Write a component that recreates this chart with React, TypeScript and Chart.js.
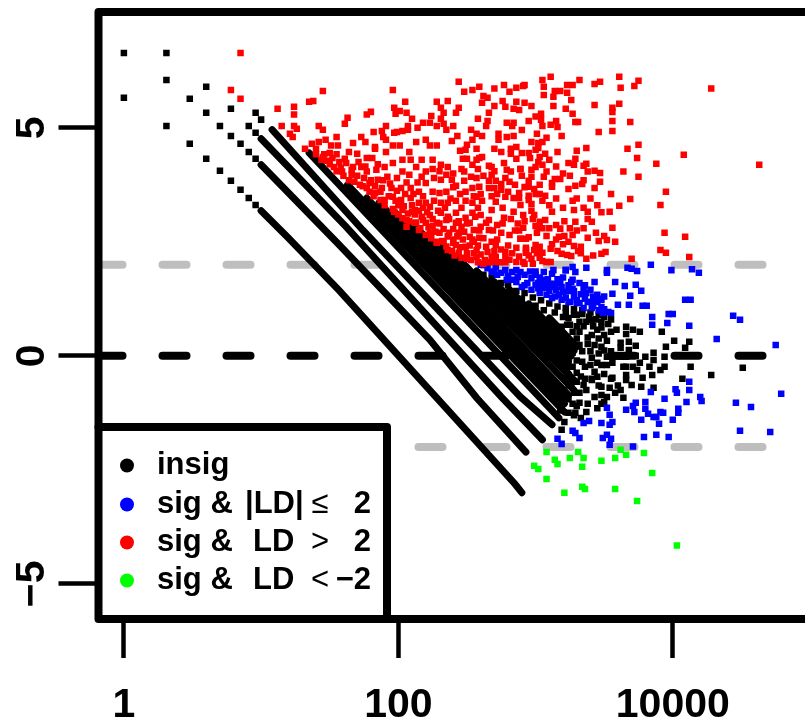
import React, { useEffect, useRef } from "react";
import { Chart, registerables } from "chart.js";

Chart.register(...registerables);

// All pairs are [log10(mean), log-difference]
const xTicks = [1, 100, 10000];
const yTicks = [-5, 0, 5];
const cutoffs = [2, -2];

const insigSparse = [[0,6.64],[0.31,6.64],[0.31,6.05],[0.31,5.04],[0,5.66],[0.48,5.64],[0.48,4.65],[0.60,5.90],[0.60,5.33],[0.60,4.32],[0.70,5.04],[0.70,4.06],[0.78,5.42],[0.78,4.82],[0.78,3.84],[0.85,4.65],[0.85,3.64],[0.91,5.04],[0.91,4.47],[0.91,3.46],[0.96,5.33],[0.96,4.89],[0.96,4.32],[0.96,3.31],[1.00,5.18]];

const band1 = [[1.00,3.18],[1.19,2.61],[1.57,1.43],[2.28,-0.92],[2.85,-2.81],[2.90,-3.00]];
const band2 = [[1.00,4.19],[1.57,2.43],[2.23,0.35],[2.57,-0.92],[2.93,-2.11]];
const band3 = [[1.00,4.76],[1.62,2.83],[2.75,-0.90],[3.05,-1.84]];
const band4 = [[1.08,4.96],[1.74,2.76],[2.89,-0.90],[3.12,-1.51]];
const band5 = [[1.35,4.45],[3.17,-1.36]];
const band6 = [[1.63,3.75],[3.21,-1.23]];
const band7 = [[1.77,3.46],[3.21,-1.05]];
const band8 = [[1.86,3.36],[3.21,-0.90]];
const band9 = [[1.97,3.16],[3.24,-0.86]];
const band10 = [[2.12,2.85],[3.28,-0.75]];
const band11 = [[2.30,2.43],[3.28,-0.53]];
const band12 = [[2.44,2.13],[3.24,-0.39]];
const band13 = [[2.57,1.86],[3.24,-0.24]];
const band14 = [[2.70,1.62],[3.24,-0.11]];
const band15 = [[2.81,1.45],[3.26,0.02]];
const band16 = [[2.95,1.14],[3.28,0.11]];
const band17 = [[3.10,0.83],[3.30,0.20]];
const bands = [band1,band2,band3,band4,band5,band6,band7,band8,band9,band10,band11,band12,band13,band14,band15,band16,band17];

const insigScatter = [[3.66,0.64],[3.71,0.57],[3.76,0.53],[3.66,0.48],[3.92,0.53],[4.01,0.33],[4.12,0.31],[4.09,0.18],[3.95,0.20],[3.94,-0.02],[3.86,0.07],[3.80,-0.02],[3.76,-0.15],[3.86,-0.09],[3.83,-0.24],[3.94,-0.24],[3.91,-0.31],[4.13,-0.24],[4.51,-0.26],[4.28,-0.42],[4.07,-0.50],[3.85,-0.42],[3.78,-0.48],[3.77,-0.68],[3.86,-0.70],[3.70,-0.64],[3.74,-0.31],[3.66,-0.24],[3.64,-0.24],[3.71,-0.24],[3.66,-0.42],[3.66,-0.53],[3.56,-0.48],
[3.59,0.57],[3.55,0.53],[3.50,0.46],[3.48,0.75],[3.41,0.79],[3.37,0.75],[3.30,0.90],[3.32,0.75],[3.24,0.83],[3.23,0.68],[3.19,0.64],[3.27,0.53],[3.32,0.53],[3.41,0.46],[3.45,0.57],[3.62,0.29],[3.68,0.31],[3.73,0.22],[3.62,0.18],[3.68,0.13],[3.73,0],[3.66,-0.02],[3.62,-0.02],[3.57,-0.02],[3.52,-0.02],[3.48,0.20],[3.43,0.24],[3.38,0.26],[3.32,0.24],[3.24,0.31],[3.19,0.20],[3.19,0.40],[3.27,0.07],[3.21,-0.04],[3.34,-0.13],[3.41,-0.04],[3.48,-0.20],[3.52,-0.20],[3.27,-0.24],[3.30,-0.37],[3.43,-0.35],[3.36,-0.24],[3.45,-0.46],[3.41,-0.53],[3.22,-0.48],[3.26,-0.59],[3.35,-0.64],[3.30,-0.57],[3.21,-0.75],[3.19,-0.90],[3.28,-0.81],[3.32,-0.81],[3.37,-0.75],[3.43,-0.90],[3.48,-0.68],[3.54,-0.70],[3.62,-0.75],[3.58,-0.81],[3.64,-0.92],[3.48,-0.86],[3.52,-0.90],[3.48,-1.05],[3.50,-1.01],[3.32,-1.03],[3.27,-1.05],[3.19,-1.07],[3.37,-1.23],[3.29,-1.25],[3.24,-1.25],[3.33,-1.36],[3.21,-1.45],[3.19,-1.62],[3.41,-0.50],[3.56,-0.15],[3.60,-0.65],[3.25,0.15],[3.40,0.10],[3.45,-0.15],[3.36,-0.50],[3.30,-1.10],
[3.22,0.95],[3.28,0.90],[3.34,0.92],[3.39,0.86],[3.44,0.80],[3.35,0.65],[3.42,0.65],[3.48,0.62],[3.53,0.70],[3.25,0.68],[3.30,0.65],[3.38,0.40],[3.46,0.38],[3.52,0.33],[3.30,0.38],[3.34,0.10],[3.46,0.05],[3.50,0.12],[3.40,-0.20],[3.55,0.10],[3.30,-0.10],[3.24,-0.15],[3.24,-0.60],[3.33,-0.45],[3.50,-0.40],[3.46,-0.65],[3.55,-0.50],[3.28,-1.30],[3.18,-1.20],[3.24,-0.95],[3.38,-1.05],[3.45,-1.15],
[2.62,1.78],[2.68,1.70],[2.75,1.60],[2.80,1.55],[2.86,1.42],[2.92,1.38],[2.98,1.28],[3.04,1.22],[3.10,1.15],[3.16,1.08],[3.22,1.05],[3.28,1.02],[3.34,1.00],[3.40,0.95],[3.46,0.90],[2.90,1.25],[3.00,1.10],[3.06,1.00],[3.14,0.95],[3.20,0.85],[3.50,0.85],[3.55,0.80]];

const redPoints = [[0.85,6.64],[0.78,5.83],[0.85,5.64],
[3.11,6.12],[3.05,6.05],[2.91,5.92],[3.06,5.90],[3.06,5.72],[3.14,5.81],[3.18,5.81],[3.23,5.94],[3.23,5.77],[3.27,5.94],[3.32,6.05],[3.43,5.96],[3.47,6.01],[3.61,6.12],[3.75,6.03],[3.72,5.92],[3.62,5.88],[4.28,5.86],[3.13,5.68],[3.26,5.61],[3.13,5.48],[2.97,5.48],[2.92,5.55],[3.22,5.42],[3.27,5.31],[3.43,5.50],[3.61,5.53],[3.56,5.44],[3.56,5.35],[3.04,5.31],[3.04,5.18],[3.05,5.04],[3.11,5.07],[3.16,5.02],[3.29,5.13],[3.31,5.13],[3.56,5.15],[3.69,5.13],[3.46,4.91],[3.56,4.93],[3.19,4.82],[3.01,4.87],[3.08,4.78],[2.97,4.69],[3.05,4.69],[3.02,4.67],[3.02,4.56],[3.00,4.52],[2.95,4.45],[3.07,4.43],[3.16,4.47],[3.30,4.50],[3.37,4.56],[3.67,4.54],[3.75,4.63],[3.74,4.34],[4.08,4.41],[4.63,4.19],[3.88,4.21],[2.96,4.34],[3.03,4.36],[3.02,4.25],[3.05,4.19],[3.00,4.14],[3.29,4.32],[3.24,4.23],[3.28,4.19],[3.35,4.17],[3.37,4.21],[3.38,4.04],[3.43,4.06],[3.47,4.01],[3.64,4.04],[3.75,3.93],[2.89,4.10],[2.97,4.08],[3.08,4.04],[3.06,3.93],[2.97,3.93],[3.14,3.88],[3.18,3.88],[3.47,3.82],[2.95,3.84],[3.03,3.75],[3.12,3.79],[3.12,3.71],[3.24,3.66],[3.29,3.73],[3.34,3.77],[3.43,3.68],[3.95,3.60],[2.95,3.71],[2.99,3.66],[3.03,3.55],[3.07,3.51],[2.95,3.51],[2.95,3.42],[3.69,3.44],[3.27,3.40],[3.61,3.29],[3.91,3.31],[2.89,3.31],[2.97,3.33],[2.97,3.18],[2.99,3.09],[2.91,3.09],[3.12,3.16],[3.28,3.20],[3.38,3.16],[3.54,3.16],[3.38,3.00],[3.41,2.94],[3.29,2.94],[3.07,2.98],[3.03,2.94],[3.02,2.81],[3.01,2.70],[2.91,2.81],[3.15,2.87],[3.18,2.79],[3.56,2.81],[3.08,2.63],[3.17,2.61],[3.21,2.63],[3.27,2.65],[3.24,2.50],[3.38,2.59],[3.46,2.52],[3.50,2.63],[3.52,2.54],[3.58,2.50],[3.94,2.70],[4.09,2.61],[2.93,2.57],[2.89,2.57],[3.00,2.43],[3.03,2.39],[3.28,2.41],[3.33,2.39],[3.31,2.30],[3.11,2.35],[2.99,2.32],[2.93,2.37],[2.93,2.26],[3.05,2.26],[3.19,2.24],[3.23,2.21],[3.26,2.19],[3.48,2.24],[3.51,2.28],[3.91,2.32],[3.95,2.26],[4.12,2.17],[3.70,2.13],[3.37,2.13],[2.97,2.13],[3.03,2.15],[3.08,2.06],[3.11,2.06],[2.91,2.06],
[1.45,5.81],[1.96,5.83],[1.12,5.42],[1.24,5.46],[1.35,5.57],[1.38,5.59],[1.24,5.29],[1.15,5.04],[1.24,5.04],[1.26,4.98],[1.21,4.87],[1.23,4.80],[1.42,5.04],[1.45,4.96],[1.32,4.54],[1.37,4.65],[1.40,4.54],[1.42,4.69],[1.47,4.74],[1.51,4.61],[1.56,4.61],[1.50,4.45],[1.45,4.36],[1.48,4.28],[1.55,4.80],[1.61,5.09],[1.63,5.22],[1.77,5.29],[1.80,5.35],[1.97,5.44],[1.98,5.31],[2.01,5.37],[2.05,5.57],[2.06,5.33],[2.10,5.20],[1.82,4.91],[1.73,4.80],[1.76,4.69],[1.67,4.67],[1.64,4.47],[1.70,4.43],[1.83,4.58],[1.83,4.54],[1.88,4.93],[1.91,5.04],[1.89,4.80],[1.97,4.89],[1.99,4.91],[2.03,4.93],[2.07,5.04],[2.07,4.96],[2.14,5.00],[2.18,5.11],[2.23,5.11],[2.24,5.26],[2.31,5.44],[2.28,5.57],[2.36,5.59],[2.33,5.33],[2.42,5.33],[2.44,5.44],[2.31,5.20],[2.28,5.04],[2.33,5.09],[2.35,4.96],[2.40,5.04],[2.44,6.01],[2.48,5.79],[2.54,5.83],[2.59,5.90],[2.62,5.70],[2.65,5.66],[2.61,5.55],[2.70,5.86],[2.70,5.48],[2.66,5.33],[2.77,5.94],[2.81,5.79],[2.76,5.59],[2.78,5.46],[2.86,5.88],[2.92,5.94],[2.84,5.42],[2.88,5.39],[2.86,5.57],[2.58,5.20],[2.65,5.15],[2.64,5.04],[2.53,4.96],[2.79,5.11],[2.84,5.11],[2.83,5.04],[2.57,4.87],[2.61,4.82],[2.43,4.82],[2.73,4.87],[2.79,4.80],[2.84,4.82],[2.73,4.74],[2.39,4.71],[2.54,4.74],[2.50,4.63],[2.45,4.50],[2.49,4.52],[2.57,4.54],[2.70,4.54],[2.75,4.47],[2.82,4.54],[2.86,4.58],[2.82,4.43],[2.86,4.32],[2.77,4.23],[2.89,4.10],[2.54,4.19],[2.48,4.04],[2.66,4.17],[2.68,4.14],[2.59,4.34],[2.47,4.32],[2.50,4.32],[2.57,4.30],[2.61,4.36],[2.79,4.08],[2.82,4.04],[2.68,3.97],[2.66,3.84],[2.71,3.84],[2.75,3.77],[2.81,3.82],[2.46,4.10],[2.53,3.93],[2.57,3.90],[2.42,3.73],[2.48,3.84],[2.36,4.14],[2.35,3.97],[2.31,3.86],[2.39,3.86],[2.59,3.71],[2.54,3.68],[2.49,3.60],[2.66,3.68],[2.70,3.68],[2.75,3.64],[2.78,3.49],[2.88,3.57],[2.84,3.46],[2.88,3.46],[2.76,3.25],[2.84,3.16],[2.71,3.38],[2.61,3.40],[2.57,3.49],[2.54,3.36],[2.49,3.40],[2.42,3.40],[2.46,3.25],[2.60,3.09],[2.66,2.98],[2.54,3.14],[2.49,3.03],[2.72,2.87],[2.77,3.03],[2.75,2.70],[2.81,2.65],[2.89,2.57],[2.66,2.76],[2.60,2.83],[2.55,2.76],[2.52,2.92],[2.46,2.83],[2.42,2.92],[2.36,3.05],[2.31,3.36],[2.36,3.36],[2.31,3.14],[2.23,3.27],[2.20,3.36],[2.15,3.60],[2.25,3.60],[2.30,3.57],[2.35,3.60],[2.20,3.79],[2.26,3.90],[2.20,4.04],[2.17,3.93],[2.13,4.14],[2.17,4.30],[2.25,4.30],[2.31,4.19],[2.23,4.61],[2.28,4.61],[2.20,4.74],[2.13,4.69],[2.08,4.47],[2.09,4.30],[2.03,4.30],[2.03,4.04],[1.96,4.61],[1.91,4.74],[2.01,4.61],[1.91,4.47],[1.81,4.34],[1.77,4.34],[1.73,4.14],[1.67,4.14],[1.62,4.23],[1.57,4.25],[1.53,4.14],[1.59,4.04],[1.66,3.97],[1.77,4.04],[1.84,4.08],[1.90,4.14],[1.96,4.23],[1.85,3.86],[1.92,3.93],[1.99,3.90],[2.08,3.97],[1.79,3.79],[1.72,3.75],[1.88,3.68],[1.95,3.68],[2.02,3.68],[2.09,3.68],[1.96,3.49],[2.02,3.42],[2.09,3.46],[2.15,3.36],[2.03,3.20],[2.10,3.16],[2.17,3.05],[2.23,3.09],[2.13,2.92],[2.20,2.92],[2.28,2.92],[2.35,2.98],[2.42,3.14],[2.23,2.70],[2.30,2.70],[2.37,2.70],[2.44,2.70],[2.52,2.61],[2.59,2.59],[2.33,2.50],[2.42,2.43],[2.49,2.39],[2.57,2.32],[2.64,2.39],[2.71,2.43],[2.78,2.28],[2.86,2.37],[2.93,2.32],[2.50,2.13],[2.62,2.02],[2.70,2.06],[2.81,2.11],[2.86,2.06],[2.92,2.02],[2.44,2.26],[2.57,2.17],[2.68,2.17],[2.78,2.17],[2.36,2.32],[2.28,2.50],[2.15,2.76],[2.06,2.98],[1.97,3.16],[1.90,3.42],[1.83,3.57],[1.77,3.68],[2.06,2.83],[2.40,2.55],[2.55,2.50],[2.70,2.30],[2.25,2.85],[2.12,3.20],[2.00,3.30],
[1.40,4.42],[1.44,4.30],[1.46,4.42],[1.50,4.20],[1.52,4.34],[1.55,4.05],[1.55,4.42],[1.58,4.12],[1.60,3.95],[1.61,4.32],[1.64,3.85],[1.66,4.08],[1.68,3.82],[1.70,3.95],[1.71,4.25],[1.74,3.72],[1.75,3.90],[1.76,4.15],[1.79,3.60],[1.80,3.85],[1.82,3.50],[1.83,3.72],[1.85,4.20],[1.87,3.42],[1.87,3.60],[1.89,3.85],[1.90,3.30],[1.93,3.50],[1.94,3.78],[1.96,3.22],[1.98,3.40],[1.99,3.62],[2.00,3.10],[2.03,3.02],[2.04,3.28],[2.05,3.55],[2.06,3.80],[2.07,3.12],[2.08,2.95],[2.10,3.30],[2.11,3.55],[2.12,2.92],[2.12,3.10],[2.14,3.80],[2.15,3.18],[2.16,2.80],[2.18,2.98],[2.18,3.25],[2.18,3.50],[2.20,2.65],[2.21,3.15],[2.22,2.82],[2.24,2.58],[2.25,3.00],[2.26,3.40],[2.27,2.72],[2.28,2.48],[2.29,3.18],[2.30,2.90],[2.32,2.52],[2.33,2.78],[2.34,3.25],[2.35,2.40],[2.36,2.62],[2.37,3.00],[2.38,3.45],[2.39,2.30],[2.40,2.48],[2.40,2.78],[2.41,2.20],[2.43,2.62],[2.44,2.95],[2.45,2.38],[2.46,2.15],[2.47,2.55],[2.48,2.72],[2.50,2.25],[2.50,2.90],[2.52,2.42],[2.53,2.10],[2.54,2.55],[2.55,2.25],[2.56,3.05],[2.58,2.05],[2.58,2.42],[2.59,2.75],[2.60,2.22],[2.62,2.58],[2.63,2.10],[2.64,2.92],[2.65,2.28],[2.66,2.05],[2.68,2.50],[2.69,2.75],[2.71,2.17],[2.72,2.55],[2.74,2.05],[2.75,2.33],[2.76,2.90],[2.78,2.05],[2.80,2.42],[2.83,2.25],[2.85,2.75],[2.88,2.18],[2.95,2.20],[2.98,2.02],[3.01,2.25],[3.05,2.08],[2.58,3.25],[2.68,3.20],[2.82,3.00],[2.87,2.90],
[2.88,2.75],[2.92,2.95],[2.95,2.60],[2.98,3.00],[3.00,2.85],[3.05,2.80],[3.10,2.80],[3.12,2.45],[3.15,2.55],[3.16,2.30],[3.20,2.45],[3.21,2.95],[3.25,2.80],[3.30,2.75],[3.33,2.25],[3.35,2.80],[3.42,2.20],[3.44,2.70],[3.15,3.45],[3.20,3.25],[3.10,3.30],[3.05,3.40],[3.00,3.55],[2.92,3.70],[2.85,3.75],[2.80,3.60],[2.72,3.55],[2.68,3.50],[2.60,3.55],[2.55,3.50],[2.45,3.55],[2.40,3.70],[2.90,3.95],[2.78,3.90],[2.62,3.95],[2.58,4.10],[2.70,4.05],[2.40,4.00],[2.30,4.05],[2.25,4.10],[2.90,4.45],[3.10,4.30],[3.15,4.15],[3.20,4.00],[3.25,3.95],[3.35,3.85],[3.40,3.45],[3.45,3.30],[3.30,3.45],[3.35,3.25],[3.48,3.15],[3.55,3.55],[3.15,5.15],[3.00,5.25],[2.95,5.15],[2.90,4.95]];

const bluePoints = [[3.37,1.93],[3.84,2.00],[3.67,1.93],[3.70,1.91],[3.74,1.86],[3.52,1.88],[3.52,1.82],[3.99,1.88],[4.14,1.90],[4.19,1.82],[3.22,1.88],[3.27,1.95],[3.29,1.84],[3.58,1.62],[3.65,1.53],[3.73,1.56],[3.77,1.43],[3.43,1.62],[3.27,1.67],[3.32,1.60],[3.27,1.47],[3.19,1.51],[3.35,1.47],[3.37,1.38],[3.45,1.34],[3.56,1.36],[3.69,1.32],[3.48,1.23],[4.09,1.23],[4.13,1.23],[3.25,1.18],[3.32,1.16],[3.41,1.18],[3.45,1.18],[3.35,1.05],[3.41,1.05],[3.48,1.07],[3.60,1.12],[3.68,1.12],[3.78,1.10],[3.81,1.10],[3.49,0.94],[3.53,0.96],[3.55,0.94],[3.85,0.85],[3.97,0.92],[4.00,0.92],[4.44,0.88],[4.49,0.79],[3.85,0.68],[3.96,0.72],[4.12,0.66],[4.32,0.37],[4.75,0.24],
[3.84,-0.79],[4.02,-0.73],[4.03,-0.81],[4.12,-0.57],[4.12,-0.75],[4.20,-0.90],[4.21,-0.99],[4.10,-1.01],[3.94,-0.94],[3.80,-1.01],[3.73,-1.03],[3.71,-1.10],[3.66,-1.18],[3.72,-1.23],[3.52,-1.14],[3.54,-1.29],[3.80,-1.16],[3.82,-1.27],[3.86,-1.34],[3.88,-1.34],[3.91,-1.23],[3.93,-1.25],[4.04,-1.16],[4.04,-1.25],[4.00,-1.40],[3.90,-1.49],[3.77,-1.40],[3.56,-1.45],[3.54,-1.51],[3.48,-1.47],[3.39,-1.43],[3.35,-1.47],[3.27,-1.64],[3.29,-1.69],[3.32,-1.80],[3.52,-1.73],[3.49,-1.80],[3.55,-1.82],[3.54,-1.95],[3.79,-1.78],[3.88,-1.73],[3.97,-1.78],[3.71,-1.99],[4.79,-0.83],[4.46,-1.03],[4.57,-1.12],[4.49,-1.64],[4.71,-1.67],
[3.16,-1.82],[3.19,-1.93],
[2.62,1.99],[2.68,1.84],[2.75,1.82],[2.83,1.84],[2.89,1.84],[2.79,1.67],[2.83,1.67],[2.87,1.73],[2.90,1.51],[2.94,1.60],[3.00,1.78],[3.06,1.84],[3.13,1.88],[3.22,1.88],[3.05,1.67],[2.97,1.45],[3.03,1.38],[3.12,1.51],[3.17,1.34],[3.12,1.27],[3.08,1.34],[3.19,1.23],[3.26,1.62],[3.24,1.18],[3.30,1.16],[3.00,1.56],[3.05,1.49],[2.71,1.95],[2.60,2.00],
[2.72,1.78],[2.80,1.75],[2.86,1.62],[2.92,1.55],[2.97,1.70],[3.02,1.60],[3.08,1.50],[3.02,1.48],[3.10,1.42],[3.15,1.45],[3.14,1.30],[3.20,1.40],[3.22,1.28],[3.28,1.30],[3.24,1.42],[3.36,1.25],[3.33,1.35],
[2.65,1.92],[2.70,1.85],[2.78,1.88],[2.86,1.88],[2.92,1.78],[2.96,1.85],[3.00,1.85],[3.03,1.72],[3.09,1.68],[3.12,1.80],[3.16,1.68],[3.20,1.72],[3.24,1.55],[3.28,1.42],[3.06,1.58],[3.10,1.58],[3.14,1.58],[3.18,1.60],[3.30,1.22],[3.38,1.18],[3.42,1.30],[3.46,1.25],[3.40,1.45],[3.36,1.55],[3.50,1.30],[3.42,1.10],[3.46,1.00],[3.50,1.02]];

const greenPoints = [[3.08,-2.11],[3.31,-2.11],[3.35,-2.24],[3.25,-2.24],[3.14,-2.28],[3.16,-2.37],[2.99,-2.41],[3.02,-2.48],[3.08,-2.70],[3.34,-2.43],[3.48,-2.30],[3.58,-2.24],[3.62,-2.06],[3.66,-2.17],[3.79,-2.13],[3.85,-2.57],[3.34,-2.87],[3.36,-2.92],[3.21,-3.00],[3.58,-2.92],[3.74,-3.18],[4.03,-4.16]];

const xMin = Math.pow(10, -0.185);
const xMax = Math.pow(10, 4.93);
const toPoint = ([u, m]: number[]) => ({ x: Math.pow(10, u), y: m });

const fontBold = (s: number) => `bold ${s}px "Liberation Sans", Arial, sans-serif`;

const noOverhang = (s: any) => {
  s.paddingTop = 0;
  s.paddingBottom = 0;
  s.paddingLeft = 0;
  s.paddingRight = 0;
};

const frame = {
  id: "frame",
  afterDraw(chart: any) {
    const { ctx, chartArea: a } = chart;
    ctx.save();
    ctx.lineJoin = "round";
    ctx.lineCap = "round";
    const lx = a.left, ly = 427, rx = 387;
    ctx.fillStyle = "#fff";
    ctx.fillRect(lx, ly, rx - lx, a.bottom - ly);
    ctx.strokeStyle = "#000";
    ctx.lineWidth = 8;
    ctx.beginPath();
    ctx.moveTo(lx, ly);
    ctx.lineTo(rx, ly);
    ctx.lineTo(rx, a.bottom);
    ctx.stroke();
    ctx.beginPath();
    ctx.moveTo(a.right + 10, a.top);
    ctx.lineTo(a.left, a.top);
    ctx.lineTo(a.left, a.bottom);
    ctx.lineTo(a.right + 10, a.bottom);
    ctx.stroke();
    const rows: any[] = [
      { y: 474, c: "#000", parts: [["insig", 157, "left", true]] },
      { y: 513, c: "#00f", parts: [["sig &", 157, "left", true], ["|LD|", 245, "left", true], ["≤", 320, "center", false], ["2", 371, "right", true]] },
      { y: 551, c: "#f00", parts: [["sig &", 157, "left", true], ["LD", 253, "left", true], [">", 320, "center", false], ["2", 371, "right", true]] },
      { y: 589, c: "#0f0", parts: [["sig &", 157, "left", true], ["LD", 253, "left", true], ["<", 320, "center", false], ["−2", 371, "right", true]] },
    ];
    ctx.textBaseline = "alphabetic";
    rows.forEach((r) => {
      ctx.fillStyle = r.c;
      ctx.beginPath();
      ctx.arc(127, r.y - 8.5, 7, 0, Math.PI * 2);
      ctx.fill();
      ctx.fillStyle = "#000";
      r.parts.forEach(([t, x, al, bold]: any[]) => {
        ctx.textAlign = al;
        ctx.font = bold ? fontBold(31) : `31px "Liberation Sans", Arial, sans-serif`;
        ctx.fillText(t, x, r.y);
      });
    });
    ctx.restore();
  },
};

export default function App() {
  const ref = useRef<HTMLCanvasElement>(null);
  useEffect(() => {
    const bandSets = bands.map((b) => ({
      type: "line",
      label: "band",
      data: b.map(toPoint),
      borderColor: "#000",
      borderWidth: 7,
      borderCapStyle: "round",
      pointRadius: 0,
      showLine: true,
      order: 4,
    }));
    const scatter = (label: string, pts: number[][], color: string, order: number) => ({
      type: "scatter",
      label,
      data: pts.map(toPoint),
      backgroundColor: color,
      borderColor: color,
      borderWidth: 0,
      pointStyle: "rect",
      pointRadius: 4.6,
      order,
    });
    const hline = (v: number, color: string, order: number) => ({
      type: "line",
      label: "ref",
      data: [{ x: xMin, y: v }, { x: xMax, y: v }],
      borderColor: color,
      borderWidth: 8,
      borderDash: [24, 40],
      borderCapStyle: "round",
      pointRadius: 0,
      order,
    });
    const chart = new Chart(ref.current as HTMLCanvasElement, {
      type: "scatter",
      data: {
        datasets: [
          hline(cutoffs[0], "#bebebe", 9),
          hline(cutoffs[1], "#bebebe", 9),
          ...bandSets,
          scatter("insig", insigSparse, "#000", 4),
          scatter("insig", insigScatter, "#000", 4),
          scatter("sig & LD > 2", redPoints, "#f00", 3),
          scatter("sig & |LD| <= 2", bluePoints, "#00f", 3),
          scatter("sig & LD < -2", greenPoints, "#0f0", 3),
          hline(0, "#000", 1),
        ] as any,
      },
      options: {
        animation: false,
        responsive: false,
        layout: { padding: { top: 12, right: 0, left: 0, bottom: 0 } },
        plugins: { legend: { display: false }, tooltip: { enabled: false } },
        scales: {
          x: {
            type: "logarithmic",
            min: xMin,
            max: xMax,
            afterBuildTicks: (s: any) => { s.ticks = xTicks.map((value) => ({ value })); },
            afterFit: (s: any) => { s.height = 105; noOverhang(s); },
            grid: { drawOnChartArea: false, drawTicks: true, tickLength: 39, tickWidth: 4.5, tickColor: "#000" },
            border: { display: false },
            ticks: {
              autoSkip: false, maxRotation: 0, minRotation: 0, padding: 23, color: "#000",
              font: { family: '"Liberation Sans"', weight: "bold", size: 41 },
              callback: (v: any) => String(v),
            },
          },
          y: {
            type: "linear",
            min: -5.77,
            max: 7.54,
            afterBuildTicks: (s: any) => { s.ticks = yTicks.map((value) => ({ value })); },
            afterFit: (s: any) => { s.width = 98.5; noOverhang(s); },
            grid: { drawOnChartArea: false, drawTicks: true, tickLength: 40, tickWidth: 4.5, tickColor: "#000" },
            border: { display: false },
            ticks: {
              autoSkip: false, minRotation: 90, maxRotation: 90, crossAlign: "center", padding: 2, color: "#000",
              font: { family: '"Liberation Sans"', weight: "bold", size: 41 },
              callback: (v: any) => String(v).replace("-", "−"),
            },
          },
        },
      } as any,
      plugins: [frame],
    } as any);
    return () => chart.destroy();
  }, []);
  return (
    <div style={{ position: "absolute", left: 0, top: 0, width: 805, height: 724, overflow: "hidden", background: "#fff" }}>
      <canvas ref={ref} width={805} height={724} style={{ display: "block" }} />
    </div>
  );
}
